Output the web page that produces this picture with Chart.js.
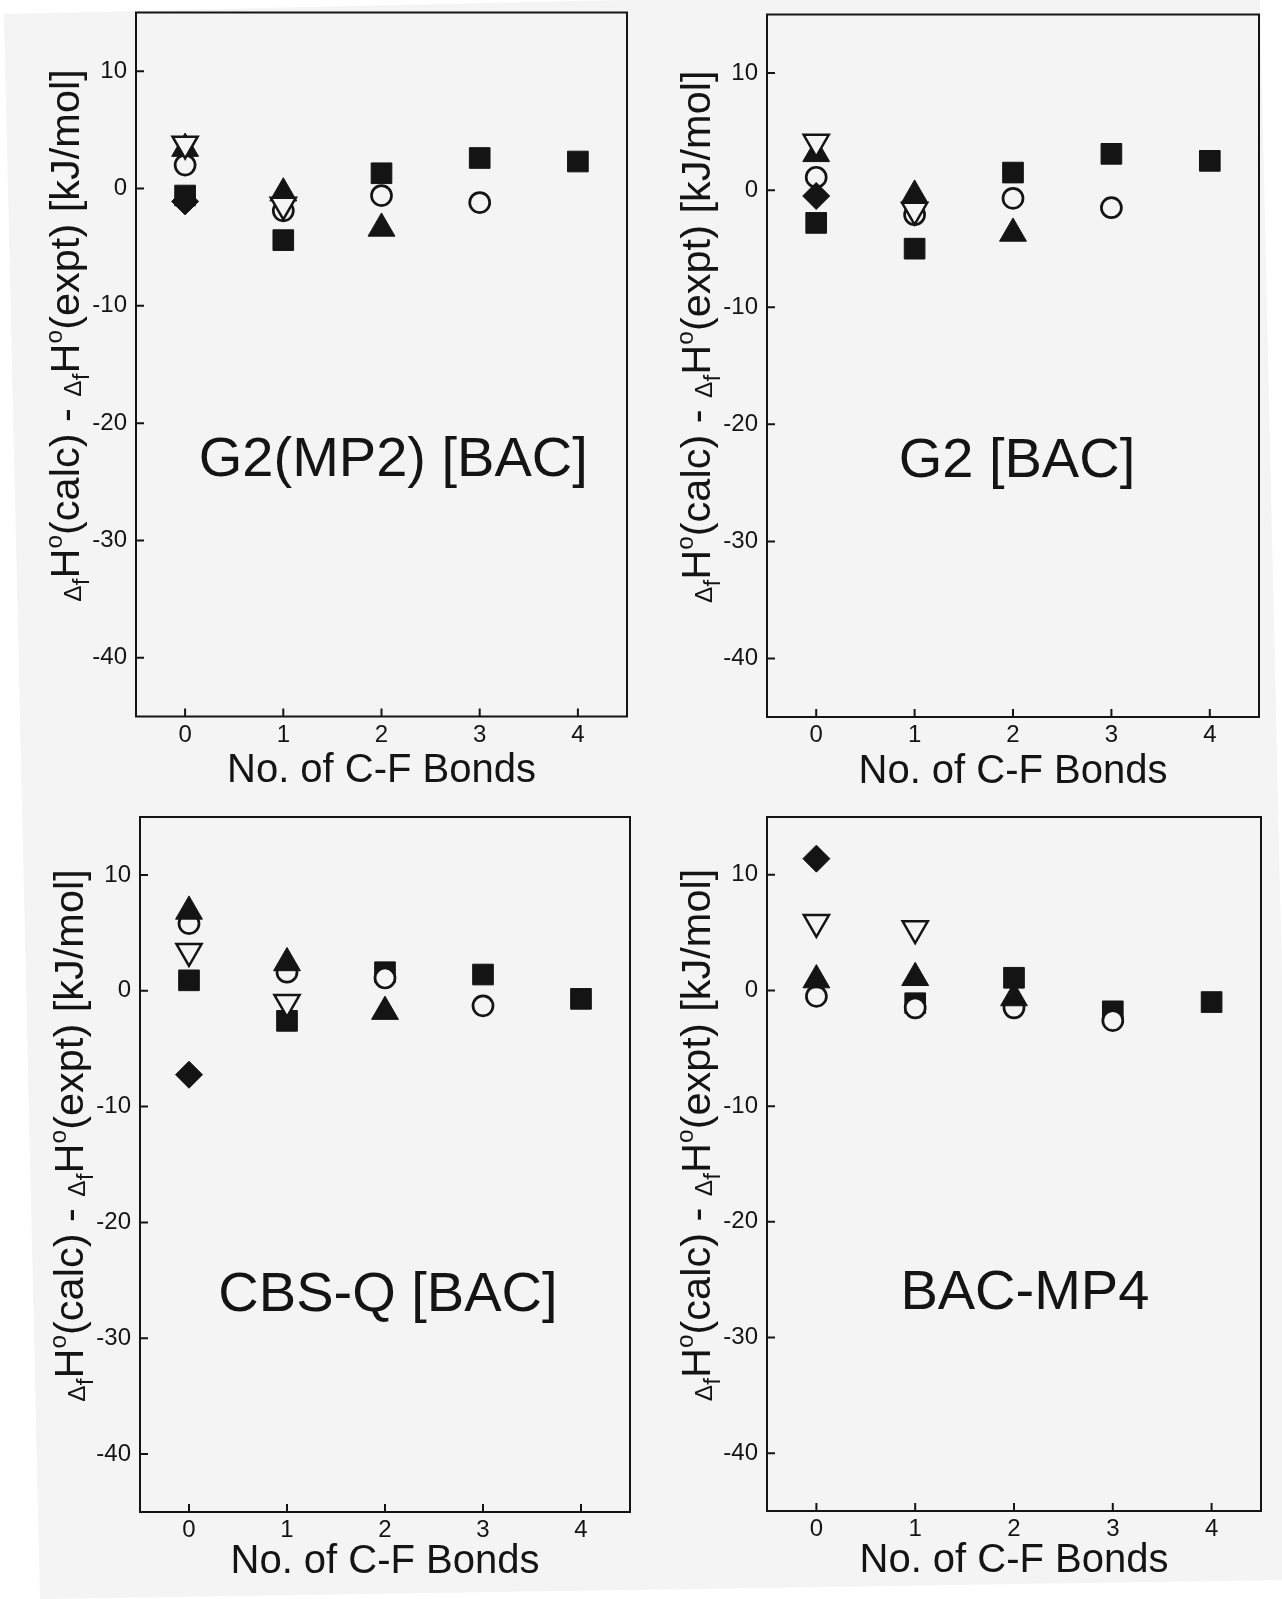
<!DOCTYPE html>
<html>
<head>
<meta charset="utf-8">
<script src="https://cdn.jsdelivr.net/npm/chart.js@4.4.1/dist/chart.umd.min.js"></script>
<style>
html,body{margin:0;padding:0;background:#ffffff;}
body{width:1282px;height:1599px;position:relative;overflow:hidden;}
#paper{position:absolute;left:0;top:0;width:1282px;height:1599px;background:#f4f4f4;
  clip-path:polygon(4px 14px,620px 0px,1260px 0px,1282px 980px,1282px 1580px,40px 1599px);}
.panel{position:absolute;}
canvas{display:block;}
</style>
</head>
<body>
<div id="paper"></div>
<div class="panel" style="left:0px;top:0px;"><canvas id="c1" width="641" height="800"></canvas></div>
<div class="panel" style="left:641px;top:0px;"><canvas id="c2" width="641" height="800"></canvas></div>
<div class="panel" style="left:0px;top:800px;"><canvas id="c3" width="641" height="799"></canvas></div>
<div class="panel" style="left:641px;top:800px;"><canvas id="c4" width="641" height="799"></canvas></div>
<script>
// ---------- data ----------
const xCategories = [0, 1, 2, 3, 4];          // No. of C-F bonds
const xTickValues = [0, 1, 2, 3, 4];
const yTickValues = [10, 0, -10, -20, -30, -40];
const panelTitles = ["G2(MP2) [BAC]", "G2 [BAC]", "CBS-Q [BAC]", "BAC-MP4"];
const xAxisTitle = "No. of C-F Bonds";

// G2(MP2) [BAC]
const g2mp2FilledSquare   = [-0.6, -4.4, 1.3, 2.6, 2.3];
const g2mp2OpenCircle     = [2.0, -1.9, -0.6, -1.2, null];
const g2mp2FilledTriangle = [3.4, -0.4, -3.4, null, null];
const g2mp2OpenTriangle   = [3.8, -1.4, null, null, null];
const g2mp2FilledDiamond  = [-1.1, null, null, null, null];

// G2 [BAC]
const g2FilledSquare   = [-2.8, -5.0, 1.5, 3.1, 2.5];
const g2OpenCircle     = [1.1, -2.1, -0.7, -1.5, null];
const g2FilledTriangle = [3.1, -0.45, -3.7, null, null];
const g2OpenTriangle   = [4.1, -1.7, null, null, null];
const g2FilledDiamond  = [-0.5, null, null, null, null];

// CBS-Q [BAC]
const cbsqFilledSquare   = [0.9, -2.6, 1.6, 1.4, -0.7];
const cbsqOpenCircle     = [5.8, 1.6, 1.1, -1.3, null];
const cbsqFilledTriangle = [6.85, 2.4, -1.8, null, null];
const cbsqOpenTriangle   = [3.4, -1.0, null, null, null];
const cbsqFilledDiamond  = [-7.25, null, null, null, null];

// BAC-MP4
const mp4FilledSquare   = [null, -1.1, 1.1, -1.8, -1.0];
const mp4OpenCircle     = [-0.5, -1.5, -1.5, -2.6, null];
const mp4FilledTriangle = [0.9, 1.1, -0.65, null, null];
const mp4OpenTriangle   = [5.9, 5.35, null, null, null];
const mp4FilledDiamond  = [11.4, null, null, null, null];

// ---------- styling ----------
const FONT = "'Liberation Sans', Arial, Helvetica, sans-serif";
const INK = '#141414';
const PAPER = '#f4f4f4';

function pts(arr) {
  return xCategories.map((x, i) => ({x: x, y: arr[i]})).filter(p => p.y !== null);
}

function makeDatasets(sq, ci, tu, td, di) {
  // first dataset is drawn on top
  return [
    {label: 'diamond', data: pts(di), pointStyle: 'rectRot', pointRadius: 13.5,
     backgroundColor: INK, borderColor: INK, borderWidth: 1},
    {label: 'open triangle', data: pts(td), pointStyle: 'triangle', rotation: 180, pointRadius: 14.5,
     backgroundColor: PAPER, borderColor: INK, borderWidth: 2.5},
    {label: 'filled triangle', data: pts(tu), pointStyle: 'triangle', pointRadius: 15.5,
     backgroundColor: INK, borderColor: INK, borderWidth: 1},
    {label: 'open circle', data: pts(ci), pointStyle: 'circle', pointRadius: 10,
     backgroundColor: PAPER, borderColor: INK, borderWidth: 2.7},
    {label: 'filled square', data: pts(sq), pointStyle: 'rect', pointRadius: 14.6,
     backgroundColor: INK, borderColor: INK, borderWidth: 1}
  ].map(d => Object.assign(d, {showLine: false, pointHoverRadius: d.pointRadius}));
}

const yTitleSegments = [
  {t: '\u0394', small: true, dy: 2},
  {t: 'f', small: true, dy: 10},
  {t: 'H', small: false, dy: 0},
  {t: 'o', small: true, dy: -17},
  {t: '(calc) - ', small: false, dy: 0},
  {t: '\u0394', small: true, dy: 2},
  {t: 'f', small: true, dy: 10},
  {t: 'H', small: false, dy: 0},
  {t: 'o', small: true, dy: -17},
  {t: '(expt) [kJ/mol]', small: false, dy: 0}
];

const decorPlugin = {
  id: 'decor',
  beforeDatasetsDraw(chart) {
    const {ctx, chartArea: a, scales: {x, y}} = chart;
    const o = chart.options.plugins.decor;
    ctx.save();
    ctx.strokeStyle = INK;
    ctx.lineWidth = 2;
    ctx.strokeRect(a.left, a.top, a.right - a.left, a.bottom - a.top);
    ctx.beginPath();
    xTickValues.forEach(v => {
      const px = x.getPixelForValue(v);
      ctx.moveTo(px, a.bottom); ctx.lineTo(px, a.bottom - 8);
    });
    yTickValues.forEach(v => {
      const py = y.getPixelForValue(v);
      ctx.moveTo(a.left, py); ctx.lineTo(a.left + 8, py);
    });
    ctx.stroke();

    // panel label
    ctx.fillStyle = INK;
    ctx.font = '56px ' + FONT;
    ctx.textAlign = 'center';
    ctx.textBaseline = 'middle';
    ctx.fillText(o.label, x.getPixelForValue(o.labelX), y.getPixelForValue(o.labelY));

    // rich y-axis title
    const mainF = '41.5px ' + FONT, smallF = '24.5px ' + FONT;
    let total = 0;
    yTitleSegments.forEach(s => { ctx.font = s.small ? smallF : mainF; total += ctx.measureText(s.t).width; });
    ctx.translate(a.left + o.titleDx, (a.top + a.bottom) / 2 + o.titleDy);
    ctx.rotate(-Math.PI / 2);
    ctx.textAlign = 'left';
    ctx.textBaseline = 'alphabetic';
    let cur = -total / 2;
    yTitleSegments.forEach(s => {
      ctx.font = s.small ? smallF : mainF;
      ctx.fillText(s.t, cur, s.dy);
      cur += ctx.measureText(s.t).width;
    });
    ctx.restore();
  }
};

function makeChart(id, datasets, cfg) {
  return new Chart(document.getElementById(id), {
    type: 'scatter',
    data: {datasets: datasets},
    plugins: [decorPlugin],
    options: {
      responsive: false,
      animation: false,
      devicePixelRatio: 1,
      layout: {padding: cfg.pad, autoPadding: false},
      events: [],
      plugins: {
        legend: {display: false},
        tooltip: {enabled: false},
        decor: {label: cfg.label, labelX: cfg.labelX, labelY: cfg.labelY, titleDx: -57, titleDy: -29}
      },
      scales: {
        x: {
          type: 'linear', min: -0.5, max: 4.5,
          afterBuildTicks: s => { s.ticks = xTickValues.map(v => ({value: v})); },
          afterFit: s => { s.height = 80; s.paddingLeft = 0; s.paddingRight = 0; },
          grid: {display: false, drawTicks: false},
          border: {display: false},
          ticks: {padding: 4, color: INK, maxRotation: 0, autoSkip: false, font: {family: FONT, size: 24}},
          title: {display: true, text: xAxisTitle, color: INK, font: {family: FONT, size: 40, lineHeight: 1.2},
                  padding: {top: 0, bottom: cfg.xTitlePad}}
        },
        y: {
          type: 'linear', min: -45, max: 15,
          afterBuildTicks: s => { s.ticks = yTickValues.map(v => ({value: v})); },
          afterFit: s => { s.width = 100; s.paddingTop = 0; s.paddingBottom = 0; },
          grid: {display: false, drawTicks: false},
          border: {display: false},
          ticks: {padding: 9, color: INK, font: {family: FONT, size: 24}}
        }
      }
    }
  });
}

makeChart('c1', makeDatasets(g2mp2FilledSquare, g2mp2OpenCircle, g2mp2FilledTriangle, g2mp2OpenTriangle, g2mp2FilledDiamond),
  {label: panelTitles[0], labelX: 2.12, labelY: -23.2, xTitlePad: 1.5,
   pad: {left: 36, right: 14, top: 12.5, bottom: 3.5}});
makeChart('c2', makeDatasets(g2FilledSquare, g2OpenCircle, g2FilledTriangle, g2OpenTriangle, g2FilledDiamond),
  {label: panelTitles[1], labelX: 2.04, labelY: -23.2, xTitlePad: 1.5,
   pad: {left: 26, right: 23, top: 14.5, bottom: 3}});
makeChart('c3', makeDatasets(cbsqFilledSquare, cbsqOpenCircle, cbsqFilledTriangle, cbsqOpenTriangle, cbsqFilledDiamond),
  {label: panelTitles[2], labelX: 2.03, labelY: -26.3, xTitlePad: 6.5,
   pad: {left: 40, right: 11, top: 17, bottom: 7}});
makeChart('c4', makeDatasets(mp4FilledSquare, mp4OpenCircle, mp4FilledTriangle, mp4OpenTriangle, mp4FilledDiamond),
  {label: panelTitles[3], labelX: 2.11, labelY: -26.2, xTitlePad: 6.5,
   pad: {left: 26, right: 21, top: 17, bottom: 8}});
</script>
</body>
</html>
